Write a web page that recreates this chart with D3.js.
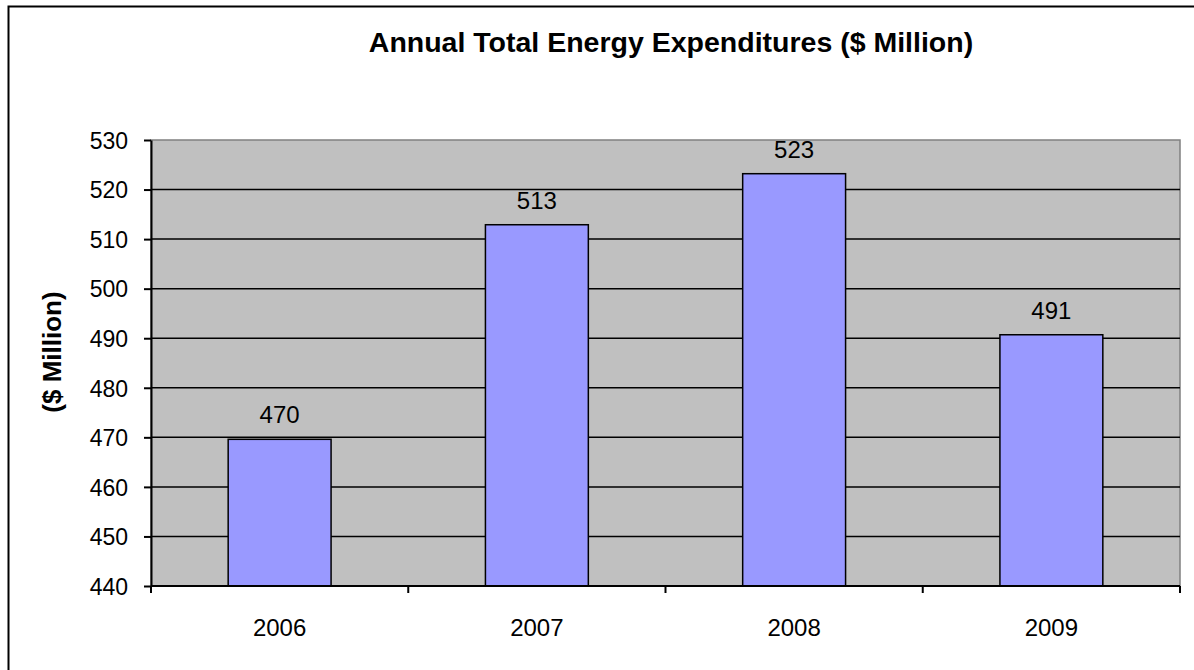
<!DOCTYPE html>
<html>
<head>
<meta charset="utf-8">
<script src="https://cdn.jsdelivr.net/npm/d3@7"></script>
<style>
  body { margin: 0; background: #fff; }
  text { font-family: "Liberation Sans", Arial, sans-serif; fill: #000; }
</style>
</head>
<body>
<svg id="chart" width="1194" height="670"></svg>
<script>
var years = ["2006", "2007", "2008", "2009"];
var expenditures = [469.6, 512.9, 523.2, 490.7];
var valueLabels = ["470", "513", "523", "491"];
var yTicks = [440, 450, 460, 470, 480, 490, 500, 510, 520, 530];

var svg = d3.select("#chart");
var plot = { left: 151, top: 140, right: 1180, bottom: 586 };

// outer border (right/bottom edges fall outside the picture)
svg.append("rect")
  .attr("x", 8.5).attr("y", 6.5)
  .attr("width", 1200).attr("height", 700)
  .attr("fill", "#fff").attr("stroke", "#000").attr("stroke-width", 2);

var x = d3.scaleBand()
  .domain(years)
  .range([plot.left, plot.right])
  .paddingInner(0.6)
  .paddingOuter(0.3);

var y = d3.scaleLinear()
  .domain([440, 530])
  .range([plot.bottom, plot.top]);

// plot background
svg.append("rect")
  .attr("x", plot.left).attr("y", plot.top)
  .attr("width", plot.right - plot.left).attr("height", plot.bottom - plot.top)
  .attr("fill", "#c0c0c0")
  .attr("stroke", "#808080").attr("stroke-width", 1.5);

// gridlines
svg.selectAll("line.grid")
  .data(yTicks.filter(function(d) { return d > 440 && d < 530; }))
  .enter()
  .append("line")
  .attr("class", "grid")
  .attr("x1", plot.left).attr("x2", plot.right)
  .attr("y1", function(d) { return y(d); })
  .attr("y2", function(d) { return y(d); })
  .attr("stroke", "#000").attr("stroke-width", 1.5);

// bars
svg.selectAll("rect.bar")
  .data(expenditures)
  .enter()
  .append("rect")
  .attr("class", "bar")
  .attr("x", function(d, i) { return x(years[i]); })
  .attr("width", x.bandwidth())
  .attr("y", function(d) { return y(d); })
  .attr("height", function(d) { return y(440) - y(d); })
  .attr("fill", "#9999ff")
  .attr("stroke", "#000").attr("stroke-width", 1.5);

// value labels
svg.selectAll("text.value")
  .data(expenditures)
  .enter()
  .append("text")
  .attr("class", "value")
  .attr("x", function(d, i) { return x(years[i]) + x.bandwidth() / 2; })
  .attr("y", function(d) { return y(d) - 16; })
  .attr("text-anchor", "middle")
  .attr("font-size", 24)
  .text(function(d, i) { return valueLabels[i]; });

// y axis
var yAxis = d3.axisLeft(y).tickValues(yTicks).tickSize(7).tickSizeOuter(0);
var gy = svg.append("g")
  .attr("transform", "translate(" + plot.left + ",0)")
  .call(yAxis);
gy.select(".domain").attr("stroke", "#000").attr("stroke-width", 2);
gy.selectAll(".tick line").attr("stroke", "#000").attr("stroke-width", 2);
gy.selectAll(".tick text")
  .attr("x", -23)
  .attr("dy", "0.36em")
  .attr("font-size", 23)
  .attr("font-family", "Liberation Sans, Arial, sans-serif")
  .attr("fill", "#000");

// x axis: ticks between categories
var xEdges = d3.range(years.length + 1).map(function(i) {
  return plot.left + i * (plot.right - plot.left) / years.length;
});
svg.append("line")
  .attr("x1", plot.left).attr("x2", plot.right)
  .attr("y1", plot.bottom).attr("y2", plot.bottom)
  .attr("stroke", "#000").attr("stroke-width", 2);
svg.selectAll("line.xtick")
  .data(xEdges)
  .enter()
  .append("line")
  .attr("class", "xtick")
  .attr("x1", function(d) { return d; }).attr("x2", function(d) { return d; })
  .attr("y1", plot.bottom).attr("y2", plot.bottom + 7)
  .attr("stroke", "#000").attr("stroke-width", 2);
svg.selectAll("text.year")
  .data(years)
  .enter()
  .append("text")
  .attr("class", "year")
  .attr("x", function(d) { return x(d) + x.bandwidth() / 2; })
  .attr("y", 636)
  .attr("text-anchor", "middle")
  .attr("font-size", 24)
  .text(function(d) { return d; });

// titles
svg.append("text")
  .attr("x", 671).attr("y", 52)
  .attr("text-anchor", "middle")
  .attr("font-size", 28.5)
  .attr("font-weight", "bold")
  .text("Annual Total Energy Expenditures ($ Million)");

svg.append("text")
  .attr("transform", "translate(61,352) rotate(-90)")
  .attr("text-anchor", "middle")
  .attr("font-size", 26)
  .attr("font-weight", "bold")
  .text("($ Million)");
</script>
</body>
</html>
